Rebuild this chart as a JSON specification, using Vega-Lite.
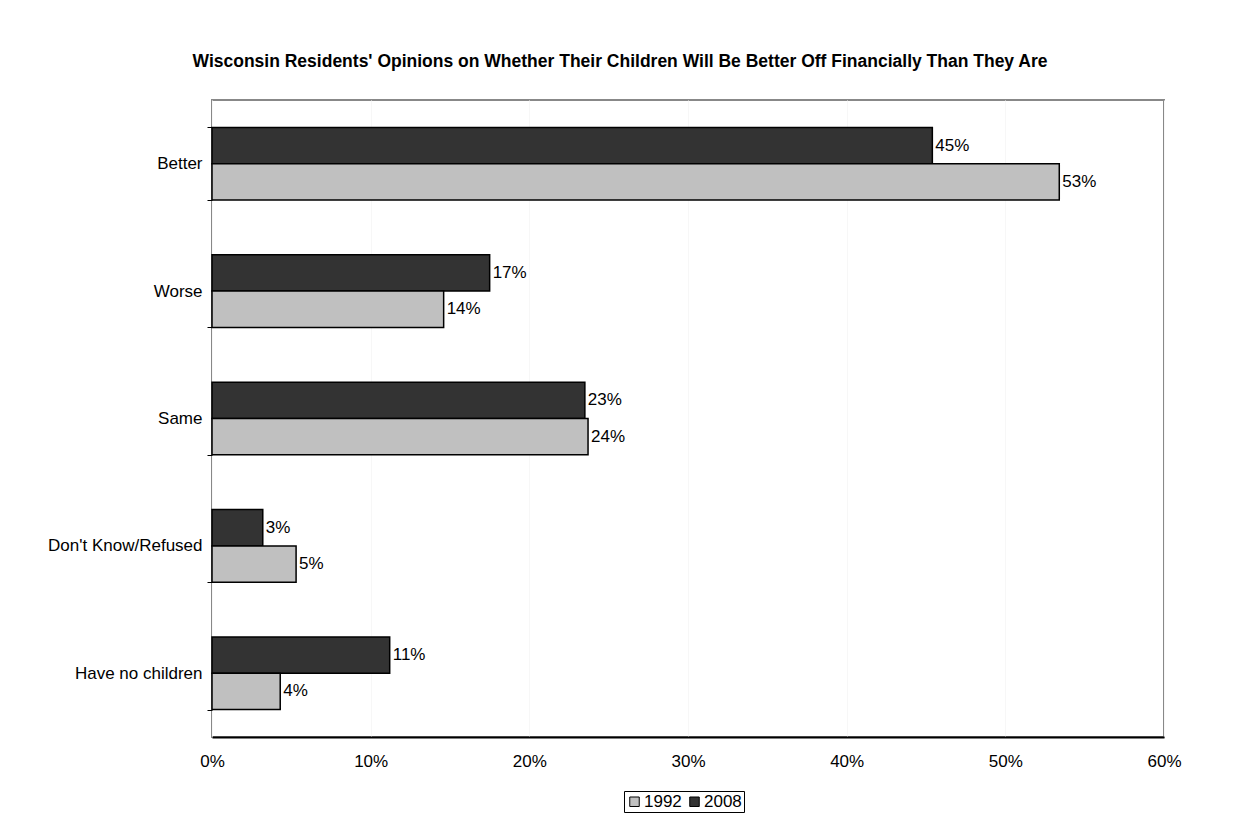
{
  "$schema": "https://vega.github.io/schema/vega-lite/v6.json",
  "width": 952,
  "height": 637,
  "autosize": {"type": "none"},
  "padding": {"left": 212, "top": 100, "right": 80, "bottom": 86},
  "background": "white",
  "title": {
    "text": "Wisconsin Residents' Opinions on Whether Their Children Will Be Better Off Financially Than They Are",
    "font": "Liberation Sans",
    "fontSize": 17.5,
    "fontWeight": "bold",
    "color": "black",
    "anchor": "middle",
    "frame": "group",
    "dx": -68,
    "offset": 21
  },
  "data": {
    "values": [
      {"opinion": "Better", "year": "2008", "pct": 0.454, "label": "45%"},
      {"opinion": "Better", "year": "1992", "pct": 0.534, "label": "53%"},
      {"opinion": "Worse", "year": "2008", "pct": 0.175, "label": "17%"},
      {"opinion": "Worse", "year": "1992", "pct": 0.146, "label": "14%"},
      {"opinion": "Same", "year": "2008", "pct": 0.235, "label": "23%"},
      {"opinion": "Same", "year": "1992", "pct": 0.237, "label": "24%"},
      {"opinion": "Don't Know/Refused", "year": "2008", "pct": 0.032, "label": "3%"},
      {"opinion": "Don't Know/Refused", "year": "1992", "pct": 0.053, "label": "5%"},
      {"opinion": "Have no children", "year": "2008", "pct": 0.112, "label": "11%"},
      {"opinion": "Have no children", "year": "1992", "pct": 0.043, "label": "4%"}
    ]
  },
  "encoding": {
    "y": {
      "field": "opinion",
      "type": "nominal",
      "sort": ["Better", "Worse", "Same", "Don't Know/Refused", "Have no children"],
      "scale": {"paddingInner": 0.43, "paddingOuter": 0.215},
      "axis": {
        "title": null,
        "domain": false,
        "tickBand": "extent",
        "tickColor": "black",
        "tickSize": 5,
        "tickWidth": 1,
        "labelPadding": 5,
        "labelFont": "Liberation Sans",
        "labelFontSize": 17,
        "labelColor": "black",
        "grid": false
      }
    },
    "yOffset": {
      "field": "year",
      "type": "nominal",
      "sort": ["2008", "1992"],
      "scale": {"paddingInner": 0, "paddingOuter": 0}
    },
    "x": {
      "field": "pct",
      "type": "quantitative",
      "scale": {"domain": [0, 0.6], "nice": false},
      "axis": {
        "title": null,
        "format": ".0%",
        "values": [0, 0.1, 0.2, 0.3, 0.4, 0.5, 0.6],
        "ticks": false,
        "labelFlush": false,
        "domainColor": "black",
        "domainWidth": 2,
        "labelPadding": 16,
        "labelFont": "Liberation Sans",
        "labelFontSize": 17,
        "labelColor": "black",
        "grid": true,
        "gridColor": "#f7f7f7",
        "gridWidth": 1
      }
    }
  },
  "layer": [
    {
      "mark": {"type": "bar", "stroke": "black", "strokeWidth": 1.5},
      "encoding": {
        "fill": {
          "field": "year",
          "type": "nominal",
          "sort": ["1992", "2008"],
          "scale": {"domain": ["1992", "2008"], "range": ["#c0c0c0", "#333333"]},
          "legend": {
            "title": null,
            "orient": "none",
            "direction": "horizontal",
            "legendX": 412,
            "legendY": 691,
            "symbolType": "square",
            "symbolSize": 90,
            "symbolStrokeColor": "black",
            "symbolStrokeWidth": 1,
            "labelFont": "Liberation Sans",
            "labelFontSize": 17,
            "labelColor": "black",
            "labelOffset": 1,
            "columnPadding": 4,
            "padding": 2,
            "strokeColor": "black",
            "fillColor": "white"
          }
        }
      }
    },
    {
      "mark": {
        "type": "text",
        "align": "left",
        "baseline": "middle",
        "dx": 3,
        "font": "Liberation Sans",
        "fontSize": 17,
        "color": "black"
      },
      "encoding": {
        "text": {"field": "label", "type": "nominal"}
      }
    }
  ],
  "config": {
    "view": {"stroke": "#888888", "strokeWidth": 2}
  }
}
